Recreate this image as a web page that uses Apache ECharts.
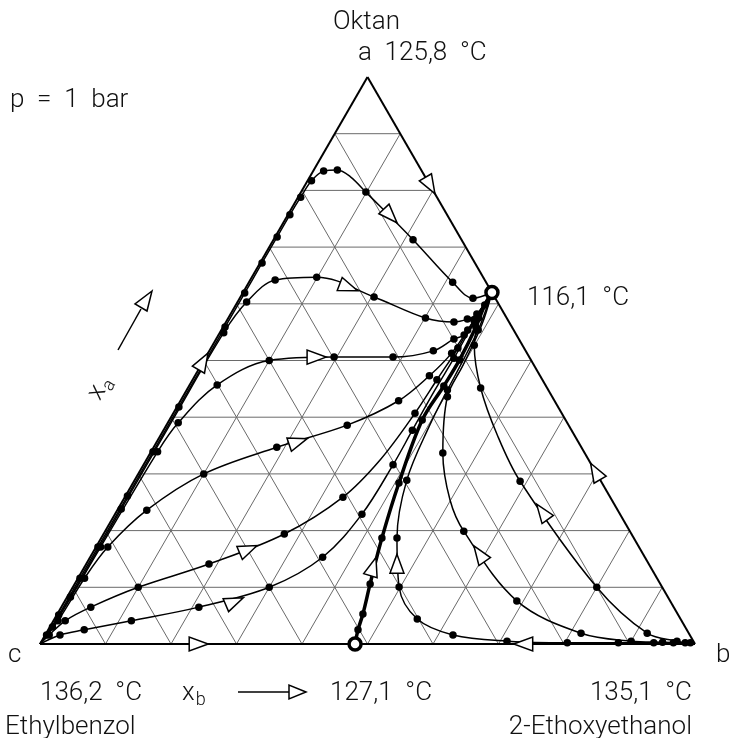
<!DOCTYPE html>
<html>
<head>
<meta charset="utf-8">
<script src="https://cdn.jsdelivr.net/npm/echarts@6/dist/echarts.min.js"></script>
<style>
  html, body { margin: 0; padding: 0; background: #fff; }
  #box { width: 729px; height: 738px; }
</style>
</head>
<body>
<div id="box"></div>
<script>
// compositions in mol-% : [x_a (Oktan), x_b (2-Ethoxyethanol), measured point 1/0]
var gridLevels = [10, 20, 30, 40, 50, 60, 70, 80, 90];

var curveA = [[0,0,0],[1.6,0.2,1],[5.1,0.3,1],[11.6,0.3,1],[17.1,0.3,1],[26.1,0.3,1],[33.9,0.3,1],
  [41.8,0.3,1],[55.9,0.3,1],[61.9,0.3,1],[67.2,0.3,1],[71.8,0.3,1],[75.7,0.3,1],[78.8,0.4,1],
  [81.7,0.6,1],[83.4,1.6,1],[83.6,3.6,1],[82.4,6.2,0],[79.7,9.9,1],[71.3,21.3,1],[63.8,31.1,1],
  [61.0,35.6,1],[62,38,0]];
var curveB = [[0,0,0],[3.0,0.4,1],[8.3,0.5,1],[23.8,0.5,1],[40,0.5,0],[54.9,0.6,1],[60.3,1.4,1],
  [64.2,3.8,1],[64.7,9.9,1],[61.2,20.4,1],[57.5,30.1,1],[56.8,34.8,1],[57.3,36.6,1],[58.2,37.6,1],[62,38,0]];
var curveC = [[0,0,0],[5.1,0.5,0],[17.1,0.7,1],[33.9,1.0,1],[39.0,1.6,1],[45.7,4.2,1],[50,10,1],
  [50.6,19.6,1],[50.6,28.6,1],[51.7,34.2,1],[53.8,36.3,1],[54.5,37.5,1],[57.5,38.2,1],[62,38,0]];
var curveD = [[0,0,0],[4.1,0.7,1],[11.6,1.0,1],[17.1,1.8,1],[23.6,4.5,1],[30,10,1],[34.7,18.8,1],
  [38.6,27.6,1],[42.9,33.3,1],[47.3,35.8,1],[51.3,37.2,1],[55.4,37.6,1],[62,38,0]];
var curveE = [[0,0,0],[1.6,0.6,1],[4.1,1.8,1],[6.5,4.5,1],[10,10,1],[14.1,18.75,1],[19.4,27.6,1],
  [25.9,33.3,1],[32.5,35.7,0],[40.7,36.9,1],[46.6,37.3,1],[52.2,37.7,1],[57.1,37.7,1],[62,38,0]];
var curveF = [[0,0,0],[1.6,2.25,1],[2.5,5.5,1],[4.1,11.9,1],[6.5,21.0,1],[10,30,1],[15.3,35.5,1],
  [22.9,37.7,1],[31.6,38.1,1],[37.7,38.0,1],[44.8,37.9,0],[50.4,38.0,1],[57.1,37.9,0],[62,38,0]];
var curveH = [[0,48.1,0],[2.5,47.3,1],[5.3,46.65,1],[10.6,45.1,1],[18.7,42.85,1],[28.4,40.6,1],
  [39.5,38.6,1],[45.5,38.9,1],[50.1,39.0,1],[55.9,38.6,1],[59.8,38.0,1],[62,38,0]];
var curveI = [[0,100,0],[0.2,99.2,1],[0.2,96.6,1],[0.2,93.6,1],[0.2,88.2,1],[0.2,80.4,1],[0.5,71.05,1],
  [1.6,62.25,1],[4.4,55.4,1],[10.05,49.8,1],[18.7,45.15,1],[28.9,41.55,1],[38.6,40.2,0],[44.8,39.8,1],
  [49.7,39.6,0],[55.4,39.2,1],[59.5,38.5,0],[62,38,0]];
var curveJ = [[0,100,0],[0.2,98.4,1],[0.3,94.9,1],[0.5,90.0,1],[1.9,81.65,1],[7.6,69.0,1],[19.9,54.75,1],
  [25.4,49.9,0],[33.7,44.65,1],[43.6,40.4,1],[49.2,40.0,0],[56.3,39.3,0],[62,38,0]];
var curveK = [[0,100,0],[0.5,97.0,1],[1.9,91.75,1],[10,80,1],[28.7,58.95,1],[36.9,51.35,0],
  [45.15,44.7,1],[52.7,39.95,1],[58.9,38.05,0],[62,38,0]];

// arrows: [x_a, x_b, x_a ahead, x_b ahead]
var arrows = [[75.7,15.5,71.3,21.3],[63.0,15.4,61.2,20.4],[50.6,16.7,50.6,19.6],[35.6,21.4,38.6,27.6],
  [16.6,23.3,19.4,27.6],[7.4,25.8,10,29.8],[49.6,0,55,0],[13.4,44.1,18.7,42.85],[13.9,47.55,18.7,45.15],
  [15.7,59.35,19.9,54.75],[23.1,65.25,28.7,58.95],[0,24,0,30],[0,74,0,70],[81.1,18.9,75,25],[30.2,69.8,35,65]];

var azeotropes = [[62, 38], [0, 48.1]];

var S = Math.sqrt(3) / 2;
function xy(p) { return [p[1] + p[0] / 2, p[0] * S, p[2]]; }

var gridLines = [];
gridLevels.forEach(function (k) {
  gridLines.push(xy([k, 0]).slice(0, 2).concat(xy([k, 100 - k]).slice(0, 2)));
  gridLines.push(xy([0, k]).slice(0, 2).concat(xy([100 - k, k]).slice(0, 2)));
  gridLines.push(xy([0, 100 - k]).slice(0, 2).concat(xy([100 - k, 0]).slice(0, 2)));
});
var edges = [
  xy([0, 0]).slice(0, 2).concat(xy([0, 100]).slice(0, 2)),
  xy([0, 100]).slice(0, 2).concat(xy([100, 0]).slice(0, 2)),
  xy([100, 0]).slice(0, 2).concat(xy([0, 0]).slice(0, 2))
];

function segSeries(data, color, width) {
  return {
    type: "custom", data: data, silent: true, z: 1,
    encode: { x: [0, 2], y: [1, 3] },
    renderItem: function (params, api) {
      var p1 = api.coord([api.value(0), api.value(1)]);
      var p2 = api.coord([api.value(2), api.value(3)]);
      return { type: "line", shape: { x1: p1[0], y1: p1[1], x2: p2[0], y2: p2[1] },
        style: { stroke: color, lineWidth: width } };
    }
  };
}

function curveSeries(data, width) {
  return {
    type: "line", data: data.map(xy), smooth: 0.35, z: 3,
    showAllSymbol: true, symbol: "circle",
    symbolSize: function (v) { return v[2] ? 7.5 : 0; },
    itemStyle: { color: "#000", opacity: 1 },
    lineStyle: { color: "#000", width: width }
  };
}

var font = "Roboto, 'Noto Sans', sans-serif";
function txt(x, y, s, align) {
  return { type: "text", x: x, y: y, z: 10,
    style: { text: s, fill: "#111", font: "300 26px " + font, textAlign: align || "left", textVerticalAlign: "middle" } };
}

var chart = echarts.init(document.getElementById("box"));
var option = {
  animation: false,
  backgroundColor: "#fff",
  grid: { left: 40, right: 34, top: 77, bottom: 94 },
  xAxis: { type: "value", min: 0, max: 100, show: false },
  yAxis: { type: "value", min: 0, max: 100 * S, show: false },
  series: [
    segSeries(gridLines, "#6a6a6a", 1),
    segSeries(edges, "#000", 2),
    curveSeries(curveA, 1.5),
    curveSeries(curveB, 1.5),
    curveSeries(curveC, 1.5),
    curveSeries(curveD, 1.5),
    curveSeries(curveE, 1.5),
    curveSeries(curveF, 1.5),
    curveSeries(curveH, 3.5),
    curveSeries(curveI, 1.5),
    curveSeries(curveJ, 1.5),
    curveSeries(curveK, 1.5),
    {
      type: "custom", z: 5, silent: true,
      data: arrows.map(function (a) { return xy([a[0], a[1]]).slice(0, 2).concat(xy([a[2], a[3]]).slice(0, 2)); }),
      encode: { x: [0, 2], y: [1, 3] },
      renderItem: function (params, api) {
        var p = api.coord([api.value(0), api.value(1)]);
        var q = api.coord([api.value(2), api.value(3)]);
        var dx = q[0] - p[0], dy = q[1] - p[1], L = Math.sqrt(dx * dx + dy * dy) || 1;
        dx /= L; dy /= L;
        var tip = [p[0] + dx * 11, p[1] + dy * 11];
        var bx = p[0] - dx * 8, by = p[1] - dy * 8;
        return { type: "polygon",
          shape: { points: [tip, [bx - dy * 7, by + dx * 7], [bx + dy * 7, by - dx * 7]] },
          style: { fill: "#fff", stroke: "#000", lineWidth: 1.5 } };
      }
    },
    {
      type: "scatter", z: 6, symbol: "circle", symbolSize: 12,
      data: azeotropes.map(function (p) { return xy(p).slice(0, 2); }),
      itemStyle: { color: "#fff", borderColor: "#000", borderWidth: 3.5, opacity: 1 }
    }
  ],
  graphic: [
    txt(333, 22, "Oktan"),
    txt(358, 53, "a  125,8  °C"),
    txt(10, 100, "p  =  1  bar"),
    txt(527, 298, "116,1  °C"),
    txt(8, 655, "c"),
    txt(716, 655, "b"),
    txt(40, 693, "136,2  °C"),
    txt(330, 693, "127,1  °C"),
    txt(692, 693, "135,1  °C", "right"),
    txt(5, 727, "Ethylbenzol"),
    txt(692, 727, "2-Ethoxyethanol", "right"),
    { type: "text", x: 182, y: 693, z: 10,
      style: { rich: { x: { font: "300 26px " + font, fill: "#111" }, s: { font: "300 18px " + font, fill: "#111", padding: [14, 0, 0, 1] } },
        text: "{x|x}{s|b}", textVerticalAlign: "middle" } },
    { type: "line", shape: { x1: 238, y1: 692, x2: 290, y2: 692 }, style: { stroke: "#000", lineWidth: 1.5 } },
    { type: "polygon", shape: { points: [[306, 692], [289, 685], [289, 699]] }, style: { fill: "#fff", stroke: "#000", lineWidth: 1.5 } },
    { type: "text", x: 100, y: 388, rotation: Math.PI / 3, z: 10,
      style: { rich: { x: { font: "300 26px " + font, fill: "#111" }, s: { font: "300 18px " + font, fill: "#111", padding: [14, 0, 0, 1] } },
        text: "{x|x}{s|a}", textAlign: "center", textVerticalAlign: "middle" } },
    { type: "line", shape: { x1: 118, y1: 350, x2: 141, y2: 309 }, style: { stroke: "#000", lineWidth: 1.5 } },
    { type: "polygon", shape: { points: [[152, 291], [135, 304], [147, 311]] }, style: { fill: "#fff", stroke: "#000", lineWidth: 1.5 } }
  ]
};
chart.setOption(option);
</script>
</body>
</html>
